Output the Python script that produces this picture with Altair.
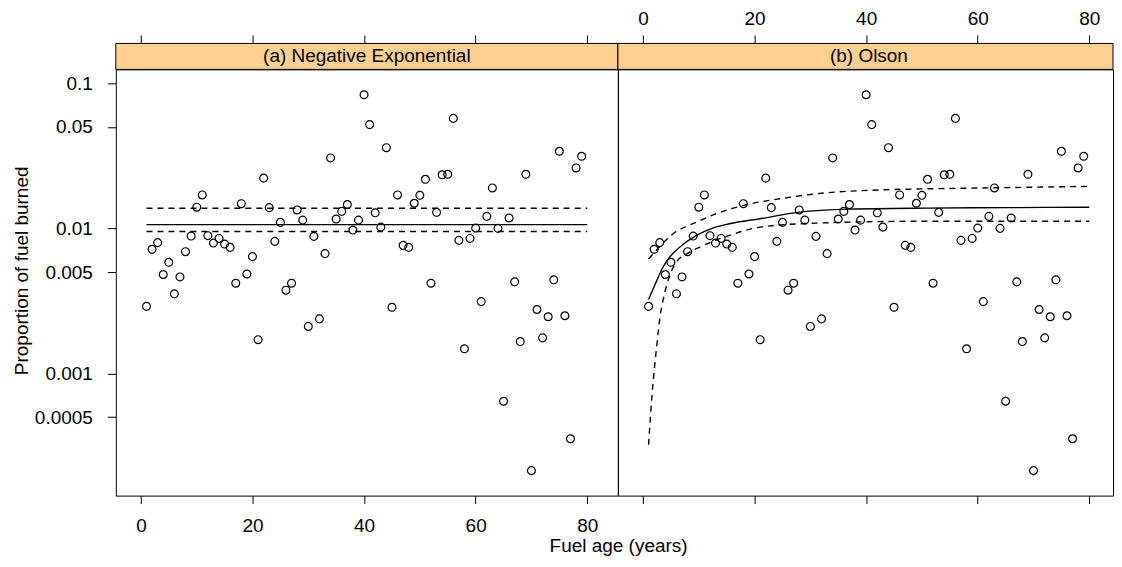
import altair as alt
import pandas as pd

# ---------------- data ----------------
ages = list(range(1, 80))
prop_burned = [
    0.0029, 0.00718, 0.00798, 0.00481, 0.00584, 0.00354, 0.00463, 0.00691, 0.00885, 0.0140,
    0.0170, 0.00891, 0.00792, 0.00853, 0.00780, 0.00740, 0.00419, 0.0148, 0.00485, 0.00639,
    0.00171, 0.0222, 0.0139, 0.00814, 0.0110, 0.00375, 0.00419, 0.0134, 0.0114, 0.00211,
    0.00881, 0.00238, 0.0067, 0.0306, 0.0116, 0.0131, 0.0146, 0.00974, 0.0114, 0.0834,
    0.0519, 0.0128, 0.0102, 0.0360, 0.00286, 0.0170, 0.00764, 0.00740, 0.0149, 0.0169,
    0.0218, 0.00419, 0.0129, 0.0234, 0.0236, 0.0573, 0.00827, 0.00148, 0.00853, 0.01005,
    0.00313, 0.0121, 0.0190, 0.0100, 0.000644, 0.0118, 0.00428, 0.00166, 0.0236, 0.000214,
    0.00276, 0.00176, 0.00246, 0.00442, 0.0340, 0.00250, 0.000355, 0.0261, 0.0314,
]

negexp_age = [1, 80]
negexp_fit = [0.01062, 0.01062]
negexp_upper = [0.01376, 0.01376]
negexp_lower = [0.00951, 0.00951]

olson_fit_age = [1, 1.85, 2.75, 3.6, 4.8, 6.6, 9.6, 12.5, 15.5, 21, 28, 37, 51, 65, 80]
olson_fit = [0.00324, 0.00385, 0.00463, 0.00542, 0.00635, 0.00744, 0.00895, 0.01005,
             0.01076, 0.01166, 0.01294, 0.01358, 0.0138, 0.0139, 0.0140]
olson_upper_age = [1, 3, 5.4, 9.6, 12.6, 18, 25, 31, 43, 51, 65, 80]
olson_upper = [0.00615, 0.0075, 0.00919, 0.01105, 0.0124, 0.0144, 0.0161, 0.0173,
               0.01845, 0.01874, 0.0191, 0.0195]
olson_lower_age = [1, 1.37, 1.85, 2.45, 3.05, 3.6, 4.8, 6, 8.1, 10.2, 15.5, 21, 31, 50, 80]
olson_lower = [0.000323, 0.000532, 0.000902, 0.00153, 0.00246, 0.0032, 0.00475, 0.00587,
               0.00676, 0.00744, 0.00895, 0.0102, 0.01087, 0.0112, 0.0112]

x_ticks = [0, 20, 40, 60, 80]
y_ticks = [0.1, 0.05, 0.01, 0.005, 0.001, 0.0005]
panel_titles = ["(a) Negative Exponential", "(b) Olson"]

# ---------------- styling ----------------
FONT = "Liberation Sans"
FS = 19
W_A, W_B, H = 503, 496, 427
STRIP = 26
STRIP_FILL = "#FFD08F"
PX_PER_YEAR = W_A / 90.0
xscale_a = alt.Scale(domain=[-4.5, 85.5], nice=False, zero=False)
xscale_b = alt.Scale(domain=[-4.5, -4.5 + W_B / PX_PER_YEAR], nice=False, zero=False)
yscale = alt.Scale(type="log", domain=[0.000144, 0.1247], nice=False)

common_axis = dict(domain=False, grid=False, tickColor="black", tickWidth=1,
                   labelFont=FONT, labelFontSize=FS, labelColor="black")


def xaxis(orient, labels, **kw):
    opts = dict(common_axis)
    opts.update(kw)
    return alt.Axis(orient=orient, values=x_ticks, labels=labels, **opts)


pts_df = pd.DataFrame({"age": ages, "prop": prop_burned})


def points(xscale, x_axis, y_axis):
    return alt.Chart(pts_df).mark_point(
        shape="circle", filled=False, color="black", size=62, strokeWidth=1.2, opacity=1
    ).encode(
        x=alt.X("age:Q", scale=xscale, axis=x_axis),
        y=alt.Y("prop:Q", scale=yscale, axis=y_axis),
    )


def curve(xscale, xs, ys, dash, x_axis=None):
    df = pd.DataFrame({"age": xs, "prop": ys})
    mk = dict(color="black", strokeWidth=1.4, interpolate="monotone")
    if dash:
        mk["strokeDash"] = [6, 5]
    return alt.Chart(df).mark_line(**mk).encode(
        x=alt.X("age:Q", scale=xscale, axis=x_axis),
        y=alt.Y("prop:Q", scale=yscale, axis=None),
    )


def strip(label, width, text_x):
    df = pd.DataFrame({"label": [label]})
    rect = alt.Chart(df).mark_rect(fill=STRIP_FILL, stroke="black", strokeWidth=1).encode(
        x=alt.value(0), x2=alt.value(width), y=alt.value(-STRIP), y2=alt.value(0)
    )
    txt = alt.Chart(df).mark_text(font=FONT, fontSize=FS, color="black", baseline="middle").encode(
        x=alt.value(text_x), y=alt.value(-STRIP / 2), text="label:N"
    )
    return [rect, txt]


y_axis_left = alt.Axis(
    orient="left", values=y_ticks, format="~g", labelPadding=15, tickSize=8.5,
    title="Proportion of fuel burned", titleFont=FONT, titleFontSize=FS,
    titleFontWeight="normal", titleColor="black", titlePadding=3, titleY=201.3,
    **common_axis,
)

bottom_a = xaxis("bottom", True, tickSize=8, labelPadding=12.5, title="Fuel age (years)",
                 titleFont=FONT, titleFontSize=FS, titleFontWeight="normal",
                 titleColor="black", titleX=503.2, titleAlign="center", titlePadding=1)
top_a = xaxis("top", False, tickSize=8.5, offset=STRIP, title=None)
bottom_b = xaxis("bottom", False, tickSize=8, title=None)
top_b = xaxis("top", True, tickSize=8.5, offset=STRIP, labelPadding=6.2, title=None)

panel_a = alt.layer(
    points(xscale_a, bottom_a, y_axis_left),
    curve(xscale_a, negexp_age, negexp_fit, False, top_a),
    curve(xscale_a, negexp_age, negexp_upper, True),
    curve(xscale_a, negexp_age, negexp_lower, True),
    *strip(panel_titles[0], W_A, W_A / 2),
).resolve_axis(x="independent", y="independent").properties(width=W_A, height=H)

panel_b = alt.layer(
    points(xscale_b, bottom_b, None),
    curve(xscale_b, olson_fit_age, olson_fit, False, top_b),
    curve(xscale_b, olson_upper_age, olson_upper, True),
    curve(xscale_b, olson_lower_age, olson_lower, True),
    *strip(panel_titles[1], W_B, W_A / 2),
).resolve_axis(x="independent", y="independent").properties(width=W_B, height=H)

chart = alt.hconcat(panel_a, panel_b, spacing=0, bounds="flush").properties(
    padding={"left": 3, "top": 0, "right": 0, "bottom": 0},
    background="white",
).configure_view(stroke="black", strokeWidth=1)

chart.save("out.html", embed_options={"renderer": "svg", "actions": False})
